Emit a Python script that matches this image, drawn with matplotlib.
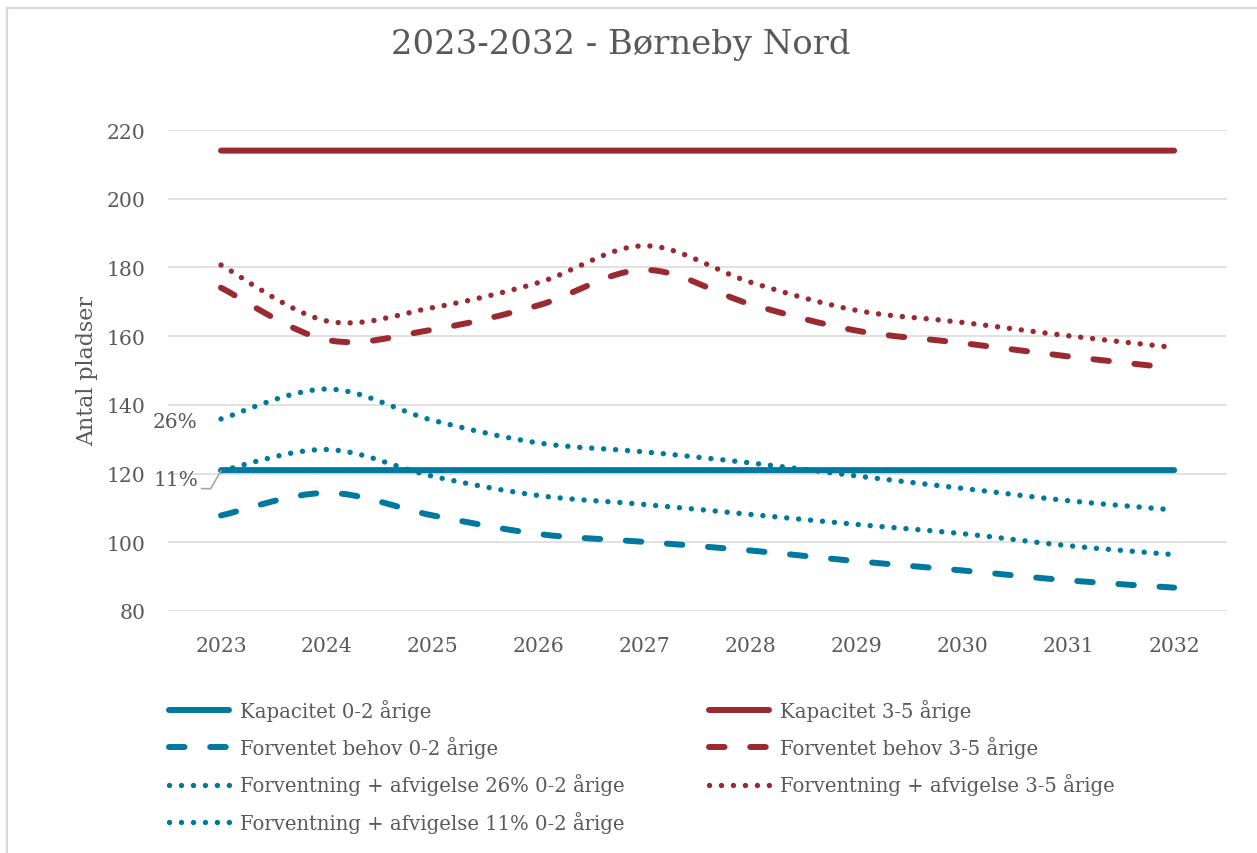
import numpy as np
import matplotlib
matplotlib.use('Agg')
import matplotlib.pyplot as plt
from matplotlib.path import Path
from matplotlib.patches import PathPatch, Rectangle
from matplotlib.lines import Line2D

years = ['2023', '2024', '2025', '2026', '2027', '2028', '2029', '2030', '2031', '2032']

kap_02 = [121, 121, 121, 121, 121, 121, 121, 121, 121, 121]
kap_35 = [214, 214, 214, 214, 214, 214, 214, 214, 214, 214]
behov_02 = [107.8, 114.4, 107.8, 102.4, 100.1, 97.6, 94.5, 91.8, 88.9, 86.8]
behov_35 = [174.1, 158.9, 161.9, 169.0, 179.3, 169.3, 161.6, 158.0, 154.1, 150.7]
afv26_02 = [135.9, 144.6, 135.5, 128.9, 126.3, 123.1, 119.3, 115.7, 112.1, 109.4]
afv11_02 = [120.8, 127.0, 119.2, 113.6, 111.0, 108.1, 105.2, 102.5, 99.0, 96.4]
afv_35 = [180.7, 164.4, 168.3, 175.6, 186.3, 175.7, 167.5, 164.0, 160.1, 156.7]

series = [
    ('Kapacitet 0-2 årige', kap_02, 'blue', 'solid'),
    ('Forventet behov 0-2 årige', behov_02, 'blue', 'dash'),
    ('Forventning + afvigelse 26% 0-2 årige', afv26_02, 'blue', 'dot'),
    ('Forventning + afvigelse 11% 0-2 årige', afv11_02, 'blue', 'dot'),
    ('Kapacitet 3-5 årige', kap_35, 'red', 'solid'),
    ('Forventet behov 3-5 årige', behov_35, 'red', 'dash'),
    ('Forventning + afvigelse 3-5 årige', afv_35, 'red', 'dot'),
]

colors = {'blue': '#00799E', 'red': '#9B2A30'}
txt = '#595959'
plt.rcParams['font.family'] = 'DejaVu Serif'

LW = 4.3
styles = {
    'solid': dict(linestyle='-', linewidth=LW),
    'dash': dict(linestyle=(0, (2.6, 4.3)), linewidth=LW),
    'dot': dict(linestyle=(0, (0.01, 2.2)), linewidth=3.9),
}


def smooth_path(xs, ys):
    # Excel style smoothed line: cubic bezier through every point
    pts = np.column_stack([xs, ys]).astype(float)
    verts = [pts[0]]
    codes = [Path.MOVETO]
    n = len(pts)
    for i in range(n - 1):
        p0 = pts[i - 1] if i > 0 else pts[i]
        p1 = pts[i]
        p2 = pts[i + 1]
        p3 = pts[i + 2] if i + 2 < n else pts[i + 1]
        c1 = p1 + (p2 - p0) / 6.0
        c2 = p2 - (p3 - p1) / 6.0
        verts += [c1, c2, p2]
        codes += [Path.CURVE4] * 3
    return Path(verts, codes)


fig = plt.figure(figsize=(12.57, 8.54), dpi=100)
ax = fig.add_axes([0.1337, 0.2834, 0.8425, 0.5632])

# outer chart border
fig.patches.append(Rectangle((7 / 1257, -0.1), 1.2, (854 - 9) / 854 + 0.1,
                             transform=fig.transFigure, fill=False,
                             edgecolor='#D9D9D9', linewidth=1.6))

x = np.arange(len(years))
handles = []
for label, vals, c, st in series:
    kw = styles[st]
    patch = PathPatch(smooth_path(x, vals), fill=False, edgecolor=colors[c],
                      capstyle='round', joinstyle='round', zorder=3, **kw)
    ax.add_patch(patch)
    h = Line2D([], [], color=colors[c], solid_capstyle='round',
               dash_capstyle='round', **kw)
    handles.append((h, label))

ax.set_xlim(-0.5, len(years) - 0.5)
ax.set_ylim(80, 220)
ax.set_yticks(range(80, 221, 20))
ax.set_xticks(x)
ax.set_xticklabels(years)
ax.grid(axis='y', color='#D9D9D9', linewidth=1.1)
ax.set_axisbelow(True)
for s in ax.spines.values():
    s.set_visible(False)
ax.tick_params(axis='both', length=0, labelsize=14.7, labelcolor=txt)
ax.tick_params(axis='y', pad=16.5)
ax.tick_params(axis='x', pad=18)
ax.set_ylabel('Antal pladser', fontsize=15.9, color=txt)
ax.yaxis.set_label_coords(-0.066, 0.5)

fig.text(0.4937, 1 - 45 / 854, '2023-2032 - Børneby Nord', ha='center', va='center',
         fontsize=24.4, color=txt)

# data labels on first points
ax.annotate('26%', xy=(0, afv26_02[0]), xytext=(-17, -2), textcoords='offset points',
            ha='right', va='center', fontsize=14.5, color=txt)
ax.annotate('11%', xy=(0, afv11_02[0]), xytext=(-16, -6), textcoords='offset points',
            ha='right', va='center', fontsize=14.5, color=txt,
            arrowprops=dict(arrowstyle='-', color='#A6A6A6', lw=1.2, shrinkA=0, shrinkB=0,
                            relpos=(1.0, 0.0),
                            connectionstyle='angle,angleA=0,angleB=60,rad=0'))

leg_kw = dict(frameon=False, fontsize=14.1, handlelength=3.05, handletextpad=0.6,
              labelspacing=0.78, borderaxespad=0, labelcolor=txt)
h1 = [h for h, _ in handles[:4]]
l1 = [l for _, l in handles[:4]]
h2 = [h for h, _ in handles[4:]]
l2 = [l for _, l in handles[4:]]
fig.legend(h1, l1, loc='upper left', bbox_to_anchor=(161 / 1257, 1 - 692 / 854), **leg_kw)
fig.legend(h2, l2, loc='upper left', bbox_to_anchor=(701 / 1257, 1 - 692 / 854), **leg_kw)

fig.savefig('out.png', dpi=100)
